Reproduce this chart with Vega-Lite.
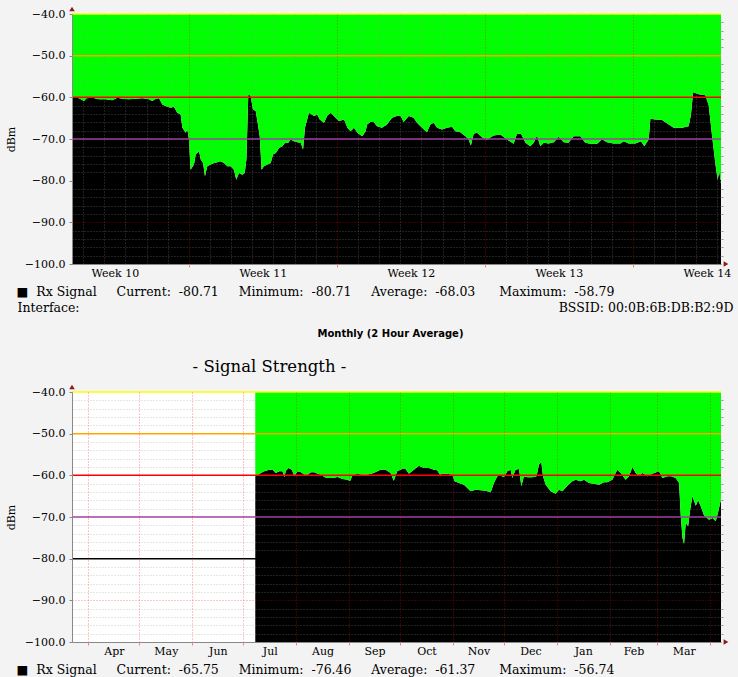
{
  "$schema": "https://vega.github.io/schema/vega-lite/v6.json",
  "background": "#f3f3f3",
  "padding": {"left": 5, "top": 6, "right": 5, "bottom": 5},
  "autosize": {"type": "pad"},
  "config": {
    "view": {"stroke": null, "fill": "#ffffff"},
    "axis": {
      "labelFont": "DejaVu Serif",
      "labelFontSize": 11,
      "labelColor": "#000000",
      "titleFont": "DejaVu Serif",
      "titleFontSize": 12.5,
      "titleFontWeight": "normal",
      "titleColor": "#000000"
    }
  },
  "datasets": {
    "one": [{"k": 1}],
    "th": [{"th": -40}, {"th": -50}, {"th": -60}, {"th": -70}, {"th": -80}],
    "wk": [
      {"t":1.47,"v":-59.9},{"t":1.80,"v":-60.24},{"t":2.04,"v":-60.88},{"t":2.15,"v":-60.24},{"t":2.43,"v":-60.08},{"t":2.75,"v":-60.48},{"t":3.06,"v":-60.48},{"t":3.38,"v":-60.72},{"t":3.61,"v":-60.08},{"t":3.85,"v":-60.32},{"t":4.17,"v":-60.48},{"t":4.48,"v":-60.32},{"t":4.80,"v":-60.24},{"t":5.11,"v":-60.48},{"t":5.27,"v":-60.88},{"t":5.43,"v":-60.32},{"t":5.59,"v":-60.24},{"t":5.74,"v":-61.69},{"t":5.90,"v":-62.09},{"t":6.14,"v":-62.49},{"t":6.29,"v":-62.25},{"t":6.45,"v":-63.69},{"t":6.61,"v":-64.10},{"t":6.69,"v":-67.31},{"t":6.85,"v":-68.51},{"t":6.93,"v":-67.71},{"t":7.00,"v":-70.12},{"t":7.08,"v":-77.35},{"t":7.24,"v":-76.14},{"t":7.32,"v":-73.73},{"t":7.48,"v":-72.93},{"t":7.56,"v":-74.94},{"t":7.67,"v":-75.74},{"t":7.76,"v":-78.96},{"t":7.87,"v":-76.55},{"t":8.03,"v":-76.14},{"t":8.19,"v":-75.74},{"t":8.34,"v":-75.58},{"t":8.50,"v":-75.34},{"t":8.66,"v":-75.74},{"t":8.82,"v":-76.55},{"t":8.98,"v":-76.55},{"t":9.13,"v":-77.35},{"t":9.24,"v":-79.76},{"t":9.37,"v":-78.15},{"t":9.53,"v":-78.55},{"t":9.64,"v":-78.15},{"t":9.72,"v":-74.94},{"t":9.81,"v":-59.28},{"t":9.92,"v":-59.68},{"t":10.03,"v":-62.89},{"t":10.16,"v":-63.29},{"t":10.28,"v":-66.91},{"t":10.35,"v":-69.32},{"t":10.44,"v":-77.35},{"t":10.55,"v":-76.55},{"t":10.71,"v":-76.14},{"t":10.87,"v":-75.74},{"t":10.98,"v":-73.73},{"t":11.11,"v":-73.33},{"t":11.26,"v":-72.13},{"t":11.42,"v":-71.73},{"t":11.55,"v":-70.92},{"t":11.70,"v":-70.92},{"t":11.81,"v":-70.12},{"t":11.97,"v":-70.52},{"t":12.13,"v":-70.76},{"t":12.29,"v":-70.92},{"t":12.40,"v":-72.53},{"t":12.49,"v":-67.31},{"t":12.68,"v":-63.69},{"t":12.92,"v":-64.50},{"t":13.07,"v":-64.10},{"t":13.19,"v":-65.30},{"t":13.39,"v":-66.10},{"t":13.55,"v":-64.34},{"t":13.71,"v":-63.69},{"t":13.94,"v":-64.90},{"t":14.10,"v":-65.70},{"t":14.34,"v":-65.30},{"t":14.50,"v":-67.31},{"t":14.65,"v":-68.11},{"t":14.81,"v":-67.31},{"t":14.97,"v":-68.51},{"t":15.20,"v":-69.32},{"t":15.36,"v":-68.11},{"t":15.43,"v":-66.51},{"t":15.58,"v":-65.94},{"t":15.74,"v":-65.94},{"t":15.90,"v":-66.91},{"t":16.13,"v":-67.31},{"t":16.37,"v":-66.51},{"t":16.61,"v":-64.90},{"t":16.84,"v":-64.50},{"t":17.00,"v":-64.34},{"t":17.16,"v":-65.94},{"t":17.40,"v":-64.50},{"t":17.63,"v":-64.90},{"t":17.79,"v":-66.10},{"t":18.03,"v":-67.31},{"t":18.26,"v":-68.35},{"t":18.42,"v":-66.51},{"t":18.58,"v":-66.10},{"t":18.74,"v":-67.31},{"t":18.97,"v":-67.71},{"t":19.21,"v":-67.31},{"t":19.45,"v":-67.07},{"t":19.60,"v":-68.11},{"t":19.84,"v":-68.35},{"t":20.08,"v":-69.32},{"t":20.23,"v":-70.12},{"t":20.34,"v":-71.57},{"t":20.47,"v":-68.76},{"t":20.63,"v":-68.51},{"t":20.86,"v":-69.56},{"t":21.10,"v":-70.12},{"t":21.42,"v":-69.16},{"t":21.73,"v":-68.92},{"t":22.05,"v":-70.12},{"t":22.36,"v":-71.16},{"t":22.52,"v":-68.76},{"t":22.71,"v":-68.76},{"t":22.92,"v":-70.92},{"t":23.15,"v":-71.73},{"t":23.31,"v":-70.92},{"t":23.47,"v":-69.16},{"t":23.62,"v":-71.73},{"t":23.78,"v":-70.92},{"t":24.02,"v":-71.08},{"t":24.26,"v":-70.76},{"t":24.49,"v":-69.48},{"t":24.73,"v":-70.76},{"t":24.96,"v":-70.92},{"t":25.20,"v":-69.32},{"t":25.52,"v":-69.32},{"t":25.75,"v":-70.92},{"t":25.99,"v":-71.16},{"t":26.31,"v":-71.16},{"t":26.54,"v":-70.04},{"t":26.78,"v":-70.76},{"t":27.09,"v":-71.08},{"t":27.41,"v":-71.08},{"t":27.57,"v":-70.52},{"t":27.80,"v":-71.08},{"t":28.12,"v":-71.08},{"t":28.39,"v":-70.52},{"t":28.54,"v":-71.73},{"t":28.75,"v":-70.12},{"t":28.83,"v":-65.14},{"t":29.06,"v":-65.30},{"t":29.38,"v":-65.46},{"t":29.70,"v":-66.51},{"t":29.93,"v":-67.31},{"t":30.33,"v":-67.31},{"t":30.64,"v":-66.91},{"t":30.75,"v":-64.10},{"t":30.85,"v":-58.79},{"t":31.11,"v":-59.28},{"t":31.43,"v":-59.52},{"t":31.59,"v":-61.93},{"t":31.75,"v":-69.32},{"t":31.90,"v":-75.74},{"t":32.01,"v":-79.76},{"t":32.09,"v":-77.75},{"t":32.17,"v":-80.71}
    ],
    "mo": [
      {"d":98.0,"v":-60.24},{"d":99.4,"v":-60.0},{"d":101.3,"v":-59.44},{"d":103.3,"v":-59.04},{"d":106.2,"v":-58.64},{"d":108.2,"v":-58.64},{"d":110.1,"v":-59.44},{"d":112.1,"v":-59.04},{"d":114.0,"v":-59.04},{"d":115.0,"v":-60.48},{"d":116.0,"v":-58.88},{"d":117.5,"v":-58.24},{"d":119.5,"v":-58.64},{"d":120.9,"v":-60.24},{"d":122.8,"v":-59.04},{"d":124.8,"v":-59.28},{"d":126.8,"v":-59.84},{"d":128.7,"v":-59.84},{"d":130.7,"v":-59.28},{"d":132.6,"v":-59.28},{"d":134.6,"v":-59.6},{"d":136.6,"v":-59.84},{"d":138.5,"v":-60.4},{"d":140.5,"v":-60.64},{"d":143.4,"v":-60.64},{"d":146.3,"v":-60.4},{"d":149.3,"v":-60.88},{"d":152.2,"v":-61.04},{"d":153.6,"v":-61.44},{"d":155.2,"v":-59.84},{"d":158.1,"v":-59.68},{"d":161.0,"v":-59.84},{"d":163.7,"v":-59.84},{"d":167.6,"v":-59.44},{"d":171.5,"v":-58.64},{"d":174.5,"v":-58.64},{"d":177.4,"v":-59.44},{"d":179.3,"v":-61.28},{"d":181.3,"v":-59.04},{"d":184.3,"v":-58.48},{"d":186.2,"v":-58.48},{"d":188.2,"v":-59.6},{"d":191.1,"v":-58.64},{"d":194.0,"v":-57.68},{"d":197.0,"v":-58.24},{"d":199.9,"v":-58.24},{"d":202.9,"v":-58.64},{"d":204.8,"v":-58.8},{"d":206.4,"v":-59.84},{"d":207.7,"v":-59.6},{"d":210.7,"v":-59.6},{"d":213.6,"v":-59.84},{"d":215.0,"v":-61.44},{"d":217.6,"v":-61.84},{"d":220.5,"v":-62.24},{"d":222.5,"v":-63.04},{"d":224.4,"v":-63.84},{"d":227.4,"v":-63.44},{"d":230.3,"v":-63.6},{"d":233.2,"v":-63.68},{"d":236.2,"v":-64.08},{"d":238.1,"v":-61.84},{"d":240.1,"v":-60.24},{"d":242.0,"v":-60.08},{"d":244.0,"v":-60.4},{"d":246.0,"v":-59.04},{"d":247.9,"v":-58.64},{"d":248.9,"v":-60.64},{"d":250.8,"v":-58.64},{"d":252.8,"v":-58.48},{"d":254.2,"v":-62.64},{"d":255.7,"v":-60.24},{"d":257.7,"v":-60.48},{"d":260.6,"v":-60.48},{"d":263.1,"v":-60.24},{"d":264.5,"v":-57.44},{"d":265.9,"v":-56.74},{"d":266.9,"v":-60.24},{"d":268.5,"v":-62.24},{"d":271.4,"v":-63.84},{"d":274.3,"v":-64.4},{"d":276.3,"v":-63.44},{"d":278.3,"v":-63.84},{"d":281.2,"v":-62.48},{"d":284.1,"v":-61.44},{"d":286.1,"v":-61.04},{"d":289.0,"v":-61.44},{"d":291.0,"v":-61.04},{"d":293.9,"v":-61.84},{"d":296.8,"v":-62.0},{"d":299.8,"v":-62.24},{"d":302.7,"v":-61.68},{"d":304.7,"v":-61.68},{"d":307.6,"v":-61.04},{"d":310.5,"v":-58.64},{"d":312.5,"v":-59.44},{"d":315.4,"v":-61.04},{"d":317.4,"v":-60.24},{"d":319.4,"v":-58.0},{"d":321.3,"v":-59.44},{"d":323.3,"v":-60.24},{"d":325.2,"v":-59.44},{"d":328.2,"v":-60.24},{"d":331.1,"v":-59.6},{"d":335.0,"v":-59.04},{"d":337.0,"v":-60.64},{"d":339.9,"v":-60.24},{"d":342.3,"v":-60.24},{"d":344.8,"v":-60.64},{"d":346.8,"v":-61.84},{"d":347.8,"v":-69.84},{"d":348.8,"v":-75.04},{"d":349.7,"v":-76.46},{"d":350.7,"v":-71.44},{"d":352.1,"v":-72.24},{"d":353.3,"v":-68.24},{"d":354.6,"v":-65.04},{"d":356.6,"v":-67.28},{"d":358.0,"v":-66.0},{"d":359.5,"v":-67.44},{"d":361.5,"v":-69.68},{"d":364.4,"v":-70.64},{"d":366.4,"v":-70.24},{"d":368.3,"v":-71.04},{"d":369.7,"v":-68.88},{"d":371.4,"v":-65.75}
    ]
  },
  "vconcat": [
    {
      "width": 649,
      "height": 250,
      "title": {"text": "Monthly (2 Hour Average)", "orient": "bottom", "anchor": "middle", "frame": "group", "dx": -6, "offset": 15, "font": "DejaVu Sans", "fontSize": 10, "fontWeight": "bold", "color": "#000000"},
      "layer": [
        {
          "data": {"name": "wk"},
          "mark": {"type": "area", "color": "#000000"},
          "encoding": {
            "x": {"field": "t", "type": "quantitative", "scale": {"domain": [1.47, 32.17], "nice": false, "zero": false},
              "axis": {"orient": "bottom", "values": [3.5, 10.5, 17.5, 24.5, 31.5], "labelExpr": "'Week ' + (10 + floor(datum.value / 7))", "grid": false, "ticks": false, "domain": true, "domainColor": "#888888", "labelPadding": 3, "labelFlush": false, "labelOverlap": false, "labelBound": false, "zindex": 1,
                "title": "■\u00a0\u00a0Rx Signal\u00a0\u00a0\u00a0\u00a0\u00a0Current:\u00a0\u00a0-80.71\u00a0\u00a0\u00a0\u00a0\u00a0Minimum:\u00a0\u00a0-80.71\u00a0\u00a0\u00a0\u00a0\u00a0Average:\u00a0\u00a0-68.03\u00a0\u00a0\u00a0\u00a0\u00a0\u00a0Maximum:\u00a0\u00a0-58.79",
                "titleX": -56, "titleY": 27, "titleAlign": "left", "titleBaseline": "middle"}},
            "y": {"field": "v", "type": "quantitative", "scale": {"domain": [-100, -40], "nice": false, "zero": false},
              "axis": {"orient": "left", "values": [-100, -90, -80, -70, -60, -50, -40], "format": ".1f", "grid": true, "gridColor": "#ff0000", "gridOpacity": {"condition": {"test": "datum.value > -85", "value": 0}, "value": 0.45}, "gridDash": [1, 2], "ticks": true, "tickSize": 3, "tickColor": "#888888", "domain": true, "domainColor": "#888888", "labelPadding": 4, "zindex": 1,
                "title": "dBm", "titleFontSize": 11, "titleX": -61, "titleY": 125, "titleAngle": 270, "titleAlign": "center", "titleBaseline": "middle"}},
            "y2": {"datum": -100}
          }
        },
        {
          "data": {"name": "wk"},
          "mark": {"type": "area", "color": "#00ff00"},
          "encoding": {
            "x": {"field": "t", "type": "quantitative", "scale": {"domain": [1.47, 32.17], "nice": false, "zero": false},
              "axis": {"orient": "bottom", "values": [2,3,4,5,6,8,9,10,11,12,13,15,16,17,18,19,20,22,23,24,25,26,27,29,30,31,32], "labels": false, "ticks": false, "domain": false, "grid": true, "gridColor": "#909090", "gridOpacity": 0.45, "gridDash": [1, 2], "zindex": 1,
                "title": "Interface:", "titleX": -55, "titleY": 43.5, "titleAlign": "left", "titleBaseline": "middle"}},
            "y": {"field": "v", "type": "quantitative", "scale": {"domain": [-100, -40], "nice": false, "zero": false},
              "axis": {"orient": "right", "values": [-98,-96,-94,-92,-88,-86,-84,-82,-78,-76,-74,-72,-68,-66,-64,-62,-58,-56,-54,-52,-48,-46,-44,-42], "labels": false, "ticks": true, "tickSize": 2, "tickColor": "#999999", "domain": false, "grid": true, "gridColor": "#909090", "gridOpacity": 0.45, "gridDash": [1, 2], "zindex": 1,
                "title": "BSSID: 00:0B:6B:DB:B2:9D", "titleAngle": 0, "titleX": 12, "titleY": 293.5, "titleAlign": "right", "titleBaseline": "middle"}},
            "y2": {"datum": -40}
          }
        },
        {
          "data": {"name": "th"},
          "mark": {"type": "rule", "strokeWidth": 1.5},
          "encoding": {
            "x": {"datum": 1.47, "type": "quantitative", "scale": {"domain": [1.47, 32.17], "nice": false, "zero": false},
              "axis": {"orient": "bottom", "values": [7, 14, 21, 28], "labels": false, "ticks": true, "tickSize": 3, "tickColor": "#ff8080", "domain": false, "grid": true, "gridColor": "#ff0000", "gridOpacity": 0.45, "gridDash": [1, 2], "zindex": 1, "title": null}},
            "x2": {"datum": 32.17},
            "y": {"field": "th", "type": "quantitative", "scale": {"domain": [-100, -40], "nice": false, "zero": false}, "axis": null},
            "color": {"field": "th", "type": "ordinal", "scale": {"domain": [-40, -50, -60, -70, -80], "range": ["#ffff00", "#ffa500", "#ff0000", "#a040a0", "#000000"]}, "legend": null}
          }
        },
        {
          "data": {"name": "one"},
          "mark": {"type": "point", "shape": "triangle-up", "filled": true, "size": 30, "color": "#8b1a1a", "opacity": 1, "yOffset": -5},
          "encoding": {
            "x": {"datum": 1.47, "type": "quantitative", "scale": {"domain": [1.47, 32.17], "nice": false, "zero": false}, "axis": null},
            "y": {"datum": -40, "type": "quantitative", "scale": {"domain": [-100, -40], "nice": false, "zero": false}, "axis": null}
          }
        },
        {
          "data": {"name": "one"},
          "mark": {"type": "point", "shape": "triangle-right", "filled": true, "size": 30, "color": "#8b1a1a", "opacity": 1, "xOffset": 5},
          "encoding": {
            "x": {"datum": 32.17, "type": "quantitative", "scale": {"domain": [1.47, 32.17], "nice": false, "zero": false}, "axis": null},
            "y": {"datum": -100, "type": "quantitative", "scale": {"domain": [-100, -40], "nice": false, "zero": false}, "axis": null}
          }
        }
      ],
      "resolve": {"axis": {"x": "independent", "y": "independent"}}
    },
    {
      "width": 649,
      "height": 250,
      "layer": [
        {
          "data": {"name": "mo"},
          "mark": {"type": "area", "color": "#000000"},
          "encoding": {
            "x": {"field": "d", "type": "quantitative", "scale": {"domain": [-9.6, 371.4], "nice": false, "zero": false},
              "axis": {"orient": "bottom", "values": [15, 45.5, 76, 106.5, 137.5, 168, 198.5, 229, 259.5, 290.5, 320, 349.5], "labelExpr": "['Apr','May','Jun','Jul','Aug','Sep','Oct','Nov','Dec','Jan','Feb','Mar'][floor(datum.value / 30.45)]", "grid": false, "ticks": false, "domain": true, "domainColor": "#888888", "labelPadding": 3, "labelFlush": false, "labelOverlap": false, "labelBound": false, "zindex": 1,
                "title": "■\u00a0\u00a0Rx Signal\u00a0\u00a0\u00a0\u00a0\u00a0Current:\u00a0\u00a0-65.75\u00a0\u00a0\u00a0\u00a0\u00a0Minimum:\u00a0\u00a0-76.46\u00a0\u00a0\u00a0\u00a0\u00a0Average:\u00a0\u00a0-61.37\u00a0\u00a0\u00a0\u00a0\u00a0\u00a0Maximum:\u00a0\u00a0-56.74",
                "titleX": -56, "titleY": 27, "titleAlign": "left", "titleBaseline": "middle"}},
            "y": {"field": "v", "type": "quantitative", "scale": {"domain": [-100, -40], "nice": false, "zero": false},
              "axis": {"orient": "left", "values": [-100, -90, -80, -70, -60, -50, -40], "format": ".1f", "grid": true, "gridColor": "#ff0000", "gridOpacity": {"condition": {"test": "datum.value > -85", "value": 0}, "value": 0.45}, "gridDash": [1, 2], "ticks": true, "tickSize": 3, "tickColor": "#888888", "domain": true, "domainColor": "#888888", "labelPadding": 4, "zindex": 1,
                "title": "dBm", "titleFontSize": 11, "titleX": -61, "titleY": 125, "titleAngle": 270, "titleAlign": "center", "titleBaseline": "middle"}},
            "y2": {"datum": -100}
          }
        },
        {
          "data": {"name": "mo"},
          "mark": {"type": "area", "color": "#00ff00"},
          "encoding": {
            "x": {"field": "d", "type": "quantitative", "scale": {"domain": [-9.6, 371.4], "nice": false, "zero": false},
              "axis": {"orient": "bottom", "values": [0, 30, 61, 91, 122, 153, 183, 214, 244, 275, 306, 334, 365], "labels": false, "ticks": true, "tickSize": 3, "tickColor": "#ff8080", "domain": false, "grid": true, "gridColor": "#ff0000", "gridOpacity": 0.45, "gridDash": [1, 2], "zindex": 1, "title": null}},
            "y": {"field": "v", "type": "quantitative", "scale": {"domain": [-100, -40], "nice": false, "zero": false},
              "axis": {"orient": "right", "values": [-98,-96,-94,-92,-88,-86,-84,-82,-78,-76,-74,-72,-68,-66,-64,-62,-58,-56,-54,-52,-48,-46,-44,-42], "labels": false, "ticks": true, "tickSize": 2, "tickColor": "#999999", "domain": false, "grid": true, "gridColor": "#909090", "gridOpacity": 0.45, "gridDash": [1, 2], "zindex": 1, "title": null}},
            "y2": {"datum": -40}
          }
        },
        {
          "data": {"name": "th"},
          "mark": {"type": "rule", "strokeWidth": 1.5},
          "encoding": {
            "x": {"datum": -9.6, "type": "quantitative", "scale": {"domain": [-9.6, 371.4], "nice": false, "zero": false},
              "axis": {"orient": "top", "labels": false, "ticks": false, "domain": false, "grid": false,
                "title": "- Signal Strength -", "titleFontSize": 16.5, "titleX": 197, "titleY": -25.3, "titleAlign": "center", "titleBaseline": "middle"}},
            "x2": {"datum": 371.4},
            "y": {"field": "th", "type": "quantitative", "scale": {"domain": [-100, -40], "nice": false, "zero": false}, "axis": null},
            "color": {"field": "th", "type": "ordinal", "scale": {"domain": [-40, -50, -60, -70, -80], "range": ["#ffff00", "#ffa500", "#ff0000", "#a040a0", "#000000"]}, "legend": null}
          }
        },
        {
          "data": {"name": "one"},
          "mark": {"type": "point", "shape": "triangle-up", "filled": true, "size": 30, "color": "#8b1a1a", "opacity": 1, "yOffset": -5},
          "encoding": {
            "x": {"datum": -9.6, "type": "quantitative", "scale": {"domain": [-9.6, 371.4], "nice": false, "zero": false}, "axis": null},
            "y": {"datum": -40, "type": "quantitative", "scale": {"domain": [-100, -40], "nice": false, "zero": false}, "axis": null}
          }
        },
        {
          "data": {"name": "one"},
          "mark": {"type": "point", "shape": "triangle-right", "filled": true, "size": 30, "color": "#8b1a1a", "opacity": 1, "xOffset": 5},
          "encoding": {
            "x": {"datum": 371.4, "type": "quantitative", "scale": {"domain": [-9.6, 371.4], "nice": false, "zero": false}, "axis": null},
            "y": {"datum": -100, "type": "quantitative", "scale": {"domain": [-100, -40], "nice": false, "zero": false}, "axis": null}
          }
        }
      ],
      "resolve": {"axis": {"x": "independent", "y": "independent"}}
    }
  ],
  "spacing": 128,
  "bounds": "flush"
}
